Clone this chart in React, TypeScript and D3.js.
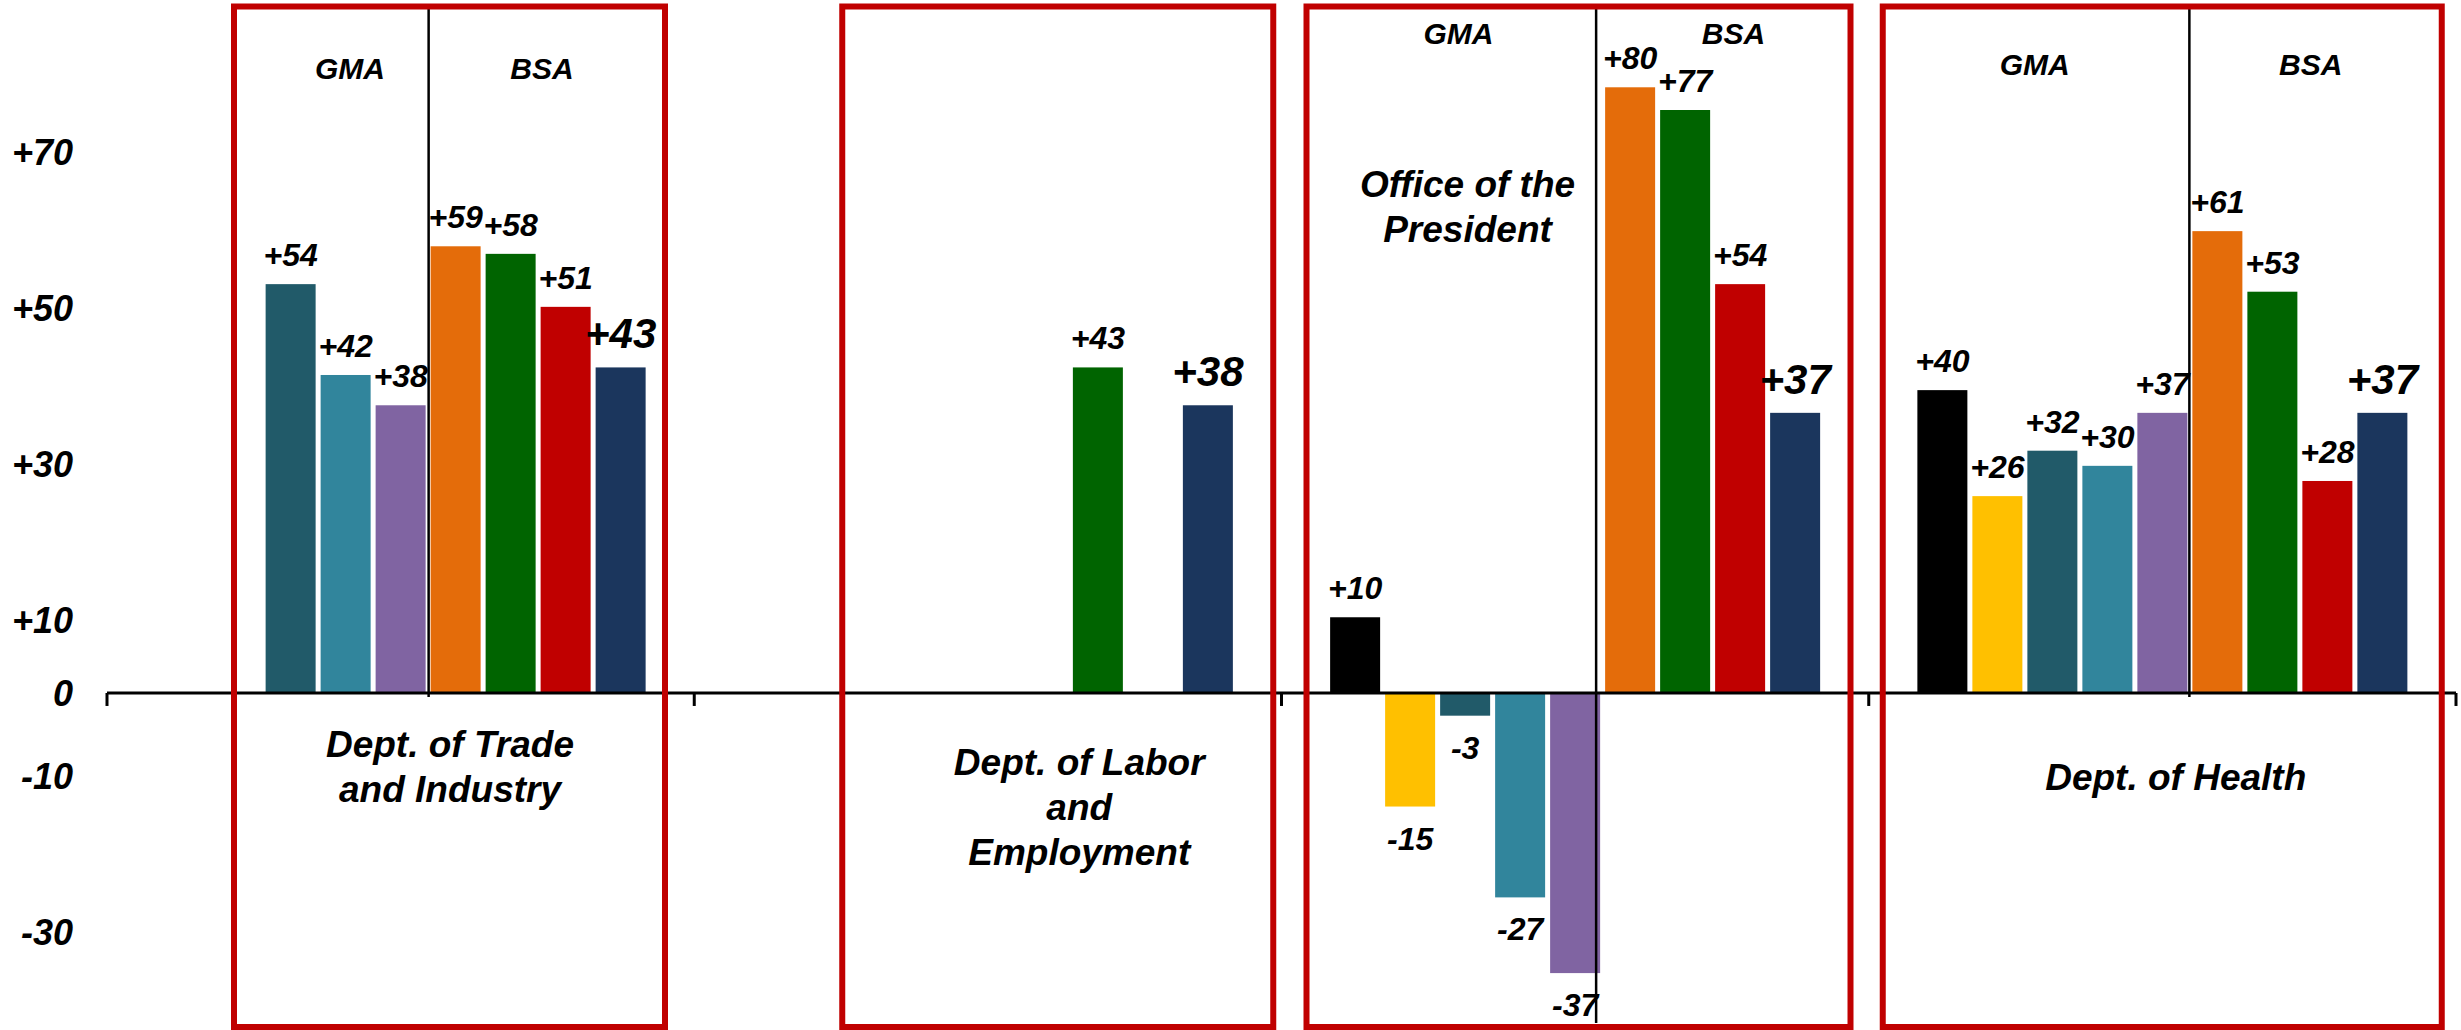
import React from 'react';
import * as d3 from 'd3';

// chart values
const categories = ['Trade', 'Labor', 'President', 'Health'];
const seriesKeys = ['gma1', 'gma2', 'gma3', 'gma4', 'gma5', 'bsa1', 'bsa2', 'bsa3', 'bsa4'];
const seriesColors = ['#000000', '#FFC000', '#215A69', '#31859C', '#8064A2', '#E46C0A', '#006400', '#C00000', '#1B365D'];

const gma1 = [null, null, 10, 40];
const gma2 = [null, null, -15, 26];
const gma3 = [54, null, -3, 32];
const gma4 = [42, null, -27, 30];
const gma5 = [38, null, -37, 37];
const bsa1 = [59, null, 80, 61];
const bsa2 = [58, 43, 77, 53];
const bsa3 = [51, null, 54, 28];
const bsa4 = [43, 38, 37, 37];
const seriesValues: (number | null)[][] = [gma1, gma2, gma3, gma4, gma5, bsa1, bsa2, bsa3, bsa4];

const yTicks = [70, 50, 30, 10, 0, -10, -30];

const categoryLines = [
  ['Dept. of Trade', 'and Industry'],
  ['Dept. of Labor', 'and', 'Employment'],
  ['Office of the', 'President'],
  ['Dept. of Health'],
];

// annotation layout (offsets from band start)
const boxSpans = [[127, 558], [148, 579], [25, 569], [14, 573]];
const labelPos = [[343, 744], [385, 762], [186, 184], [307, 777]];
const groupLabelPos = [
  { cat: 0, gma: 243, bsa: 435, y: 68, dx: -2, line: 'axis' },
  { cat: 2, gma: 177, bsa: 452, y: 33, dx: -9, line: 'long' },
  { cat: 3, gma: 166, bsa: 442, y: 64, dx: -3, line: 'axis' },
];

const W = 2461;
const H = 1030;
const font = "'Liberation Sans', Arial, sans-serif";

const fmt = (v: number) => (v > 0 ? `+${v}` : `${v}`);

export default function App() {
  const x0 = d3.scaleBand<string>().domain(categories).range([107, 2456]);
  const step = 55;
  const n = seriesKeys.length;
  const outer = (x0.bandwidth() / step - (n - 5 / 55)) / 2;
  const x1 = d3.scaleBand<string>().domain(seriesKeys).range([0, x0.bandwidth()])
    .paddingInner(5 / 55).paddingOuter(outer);
  const y = d3.scaleLinear().domain([-30, 70]).range([920.1, 163]);
  const y0 = y(0);
  // the tick label column sits in its own text box, slightly off the bar scale
  const yLabel = d3.scaleLinear().domain([-30, 70]).range([932, 152]);

  const textStyle = { fontFamily: font, fontWeight: 'bold' as const, fontStyle: 'italic' as const };

  return (
    <div style={{ position: 'fixed', left: 0, top: 0, width: W, height: H, background: '#fff' }}>
      <svg width={W} height={H} style={{ display: 'block' }}>
        <rect width={W} height={H} fill="#fff" />

        {/* bars */}
        {seriesValues.map((vals, si) =>
          vals.map((v, ci) => {
            if (v === null) return null;
            const bx = (x0(categories[ci]) ?? 0) + (x1(seriesKeys[si]) ?? 0);
            return (
              <rect key={`b${si}-${ci}`} x={bx} width={x1.bandwidth()}
                y={Math.min(y(v), y0)} height={Math.abs(y(v) - y0)} fill={seriesColors[si]} />
            );
          })
        )}

        {/* zero axis */}
        <line x1={x0.range()[0]} x2={x0.range()[1]} y1={y0} y2={y0} stroke="#000" strokeWidth={3} />
        {[...categories.map(c => x0(c) ?? 0), x0.range()[1]].map((tx, i) => (
          <line key={`t${i}`} x1={tx} x2={tx} y1={y0} y2={y0 + 13} stroke="#000" strokeWidth={3} />
        ))}

        {/* GMA / BSA dividers */}
        {groupLabelPos.map(g => {
          const c = categories[g.cat];
          const dx = (x0(c) ?? 0) + (x1('bsa1') ?? 0) + g.dx;
          return (
            <line key={`d${g.cat}`} x1={dx} x2={dx} y1={8} y2={g.line === 'long' ? 1023 : y0 + 4}
              stroke="#000" strokeWidth={2.5} />
          );
        })}

        {/* y tick labels */}
        {yTicks.map(t => (
          <text key={`yt${t}`} x={73} y={t === 0 ? y0 : yLabel(t)} dy="0.36em" textAnchor="end" fontSize={36} {...textStyle}>
            {t === 0 ? '0' : fmt(t)}
          </text>
        ))}

        {/* value labels */}
        {seriesValues.map((vals, si) =>
          vals.map((v, ci) => {
            if (v === null) return null;
            const cx = (x0(categories[ci]) ?? 0) + (x1(seriesKeys[si]) ?? 0) + x1.bandwidth() / 2;
            const big = si === n - 1;
            const ly = v >= 0 ? y(v) - (big ? 19 : 18) : y(v) + 43;
            return (
              <text key={`l${si}-${ci}`} x={cx} y={ly} textAnchor="middle" fontSize={big ? 42 : 32} {...textStyle}>
                {fmt(v)}
              </text>
            );
          })
        )}

        {/* GMA / BSA headers */}
        {groupLabelPos.map(g => {
          const bx = x0(categories[g.cat]) ?? 0;
          return (
            <g key={`g${g.cat}`}>
              <text x={bx + g.gma} y={g.y} dy="0.36em" textAnchor="middle" fontSize={30} {...textStyle}>GMA</text>
              <text x={bx + g.bsa} y={g.y} dy="0.36em" textAnchor="middle" fontSize={30} {...textStyle}>BSA</text>
            </g>
          );
        })}

        {/* category labels */}
        {categoryLines.map((lines, ci) => {
          const bx = x0(categories[ci]) ?? 0;
          return lines.map((ln, li) => (
            <text key={`c${ci}-${li}`} x={bx + labelPos[ci][0]} y={labelPos[ci][1] + li * 45}
              dy="0.36em" textAnchor="middle" fontSize={37} {...textStyle}>{ln}</text>
          ));
        })}

        {/* red annotation boxes */}
        {boxSpans.map((s, ci) => {
          const bx = x0(categories[ci]) ?? 0;
          return (
            <rect key={`r${ci}`} x={bx + s[0]} y={6.5} width={s[1] - s[0]} height={1020.5}
              fill="none" stroke="#C00000" strokeWidth={6} />
          );
        })}
      </svg>
    </div>
  );
}
